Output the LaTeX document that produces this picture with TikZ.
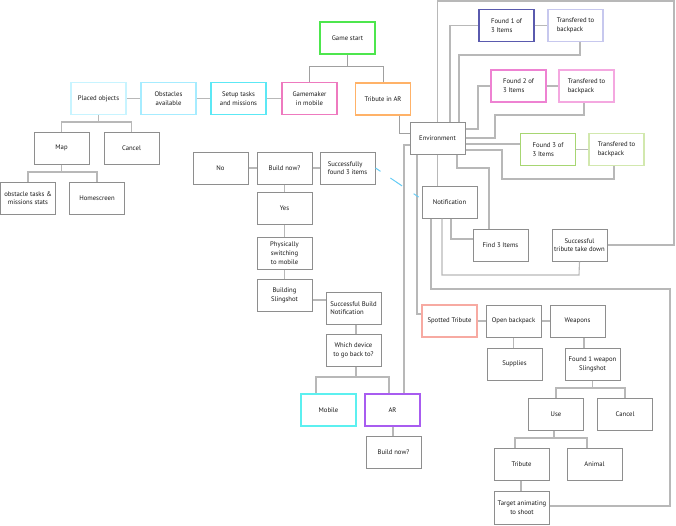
\documentclass[tikz,border=0pt]{standalone}
\usepackage{fontspec}
\setmainfont{PT Sans}
\usepackage{tikz}
\definecolor{boxgray}{HTML}{8E8E8E}
\definecolor{linkgray}{HTML}{B8B8B8}
\definecolor{darklink}{HTML}{A0A0A0}
\definecolor{cgreen}{HTML}{4DE64D}
\definecolor{cpink}{HTML}{EE7ABF}
\definecolor{ccyanl}{HTML}{C8F4FF}
\definecolor{ccyanm}{HTML}{A6ECFF}
\definecolor{ccyan}{HTML}{5CE8F5}
\definecolor{corange}{HTML}{FFB268}
\definecolor{cindigo}{HTML}{5A5AAE}
\definecolor{clav}{HTML}{C7C8EE}
\definecolor{cpinkb}{HTML}{EE82D2}
\definecolor{cpinkc}{HTML}{F4A8E0}
\definecolor{clime}{HTML}{A7D672}
\definecolor{climel}{HTML}{D2E8AE}
\definecolor{csalmon}{HTML}{F7AAA2}
\definecolor{cmobile}{HTML}{5CF0F0}
\definecolor{cpurple}{HTML}{A85CF0}
\definecolor{cdash}{HTML}{66CCF5}

\begin{document}
\begin{tikzpicture}[x=1pt,y=-1pt,
  box/.style={draw=boxgray, line width=1pt, fill=white, minimum width=55pt,
    minimum height=32pt, inner sep=1pt, align=center, text=black!90,
    font=\fontsize{6.7}{8.7}\selectfont},
  cbox/.style={box, draw=#1, line width=1.4pt},
  link/.style={draw=linkgray, line width=1.1pt},
  dlink/.style={draw=darklink, line width=1pt}]
\useasboundingbox (0,0) rectangle (676,525);
% top row
\node[cbox=cgreen] (start) at (347.5,38) {Game start};
\node[cbox=ccyanl] (placed) at (98.5,98.5) {Placed objects};
\node[cbox=ccyanm] (obst) at (168.5,98.5) {Obstacles\\available};
\node[cbox=ccyan] (setup) at (238.5,98.5) {Setup tasks\\and missions};
\node[cbox=cpink] (gm) at (309.5,98.5) {Gamemaker\\in mobile};
\node[cbox=corange] (tar) at (383,99) {Tribute in AR};
\node[box] (map) at (61.5,148) {Map};
\node[box] (cancelA) at (131.5,148) {Cancel};
\node[box] (stats) at (28,198) {obstacle tasks \&\\missions stats};
\node[box] (home) at (97,198) {Homescreen};
% build branch
\node[box] (no) at (220.5,168) {No};
\node[box] (build) at (284.5,168) {Build now?};
\node[box, align=left] (succ3) at (347.5,168) {Successfully\\found 3 items};
\node[box] (yes) at (284.5,208.5) {Yes};
\node[box] (phys) at (284.5,253) {Physically\\switching\\to mobile};
\node[box] (sling) at (284.5,295) {Building\\Slingshot};
\node[box, align=left] (sbn) at (353.5,308) {Successful Build\\Notification};
\node[box] (which) at (353.5,350) {Which device\\to go back to?};
\node[cbox=cmobile] (mobile) at (328.5,410) {Mobile};
\node[cbox=cpurple] (ar) at (392.5,410) {AR};
\node[box] (build2) at (393.5,452) {Build now?};
% environment
\node[box] (env) at (437.5,138) {Environment};
\node[cbox=cindigo, line width=1.1pt, align=left] (f1) at (506.5,25.5) {Found 1 of\\3 Items};
\node[cbox=clav, align=left] (t1) at (575.5,25.5) {Transfered to\\backpack};
\node[cbox=cpinkb, align=left] (f2) at (518.5,86) {Found 2 of\\3 Items};
\node[cbox=cpinkc, align=left] (t2) at (586.5,86) {Transfered to\\backpack};
\node[cbox=clime, align=left] (f3) at (548,149.5) {Found 3 of\\3 Items};
\node[cbox=climel, align=left] (t3) at (616.5,149.5) {Transfered to\\backpack};
\node[box] (notif) at (449.5,202) {Notification};
\node[box] (find3) at (500.5,245) {Find 3 Items};
\node[box] (takedown) at (579.5,245) {Successful\\tribute take down};
% tribute branch
\node[cbox=csalmon] (spot) at (449.5,321) {Spotted Tribute};
\node[box] (openbp) at (513.5,321) {Open backpack};
\node[box] (weap) at (577.5,321) {Weapons};
\node[box] (supp) at (514.5,364) {Supplies};
\node[box] (fweap) at (592.5,364) {Found 1 weapon\\Slingshot};
\node[box] (use) at (556,414) {Use};
\node[box] (cancelB) at (625,414) {Cancel};
\node[box] (trib) at (521.5,464) {Tribute};
\node[box] (animal) at (594.5,464) {Animal};
\node[box, minimum height=33pt] (target) at (522,507.5) {Target animating\\to shoot};
% links
\draw[dlink] (start.south) -- (347.5,66) -| (gm.north);
\draw[dlink] (347.5,66) -| (tar.north);
\draw[link] (placed) -- (obst);
\draw[link] (obst) -- (setup);
\draw[link] (setup) -- (gm);
\draw[link] (placed.south) -- (98.5,122) -| (map.north);
\draw[link] (98.5,122) -| (cancelA.north);
\draw[link] (map.south) -- (61.5,172) -| (stats.north);
\draw[link] (61.5,172) -| (home.north);
\draw[dlink] (tar.south -| 399,0) |- (env.west |- 0,133);
\draw[link] (env.north) |- (674,1) |- (takedown.east);
\draw[link] (env.north -| 450,0) |- (f1.west);
\draw[link] (env.north -| 459,0) |- (580,55) -- (t1.south -| 580,0);
\draw[link] (f1) -- (t1);
\draw[link] (env.east |- 0,129) -| (478,86) -- (f2.west);
\draw[link] (f2) -- (t2);
\draw[link] (env.east |- 0,138) -| (495,115) -| (t2.south -| 584,0);
\draw[link] (env.east |- 0,144) -- (f3.west |- 0,144);
\draw[link] (f3) -- (t3);
\draw[link] (env.east |- 0,150) -| (502,179) -| (t3.south -| 614,0);
\draw[link] (env.south -| 457,0) |- (489,168) -- (find3.north -| 489,0);
\draw[link] (env.south) -- (env.south |- notif.north);
\draw[link] (env.west |- 0,145) -| (ar.north -| 404,0);
\draw[link] (env.south -| 417,0) |- (spot.west |- 0,314);
\draw[cdash, line width=1pt, dash pattern=on 6pt off 12pt on 14pt off 14pt] (succ3.east |- 0,168) -- (notif.west |- 0,199);
\draw[link] (notif.south -| 451,0) |- (find3.west |- 0,239);
\draw[link] (notif.south -| 442,0) |- (579,275) -- (takedown.south);
\draw[link] (notif.south -| 431,0) |- (670,289) |- (target.east |- 0,506);
\draw[link] (spot) -- (openbp);
\draw[link] (openbp) -- (weap);
\draw[link] (openbp.south) -- (supp.north -| openbp.south);
\draw[link] (weap.south -| 584,0) -- (fweap.north -| 584,0);
\draw[link] (fweap.south) -- (592.5,388) -| (use.north);
\draw[link] (592.5,388) -| (cancelB.north);
\draw[link] (use.south -| 554,0) -- (554,438) -| (trib.north -| 515,0);
\draw[link] (554,438) -| (animal.north -| 587,0);
\draw[link] (trib.south -| 521,0) -- (target.north -| 521,0);
\draw[link] (no) -- (build);
\draw[link] (build) -- (succ3);
\draw[link] (build) -- (yes);
\draw[link] (yes) -- (phys);
\draw[link] (phys) -- (sling);
\draw[link] (sling.east |- 0,300) -- (sbn.west |- 0,300);
\draw[link] (sbn.south -| 356,0) -- (which.north -| 356,0);
\draw[link] (which.south -| 356,0) -- (356,377) -| (mobile.north -| 316,0);
\draw[link] (356,377) -| (ar.north -| 389,0);
\draw[link] (ar.south -| 393,0) -- (build2.north -| 393,0);
\end{tikzpicture}
\end{document}
